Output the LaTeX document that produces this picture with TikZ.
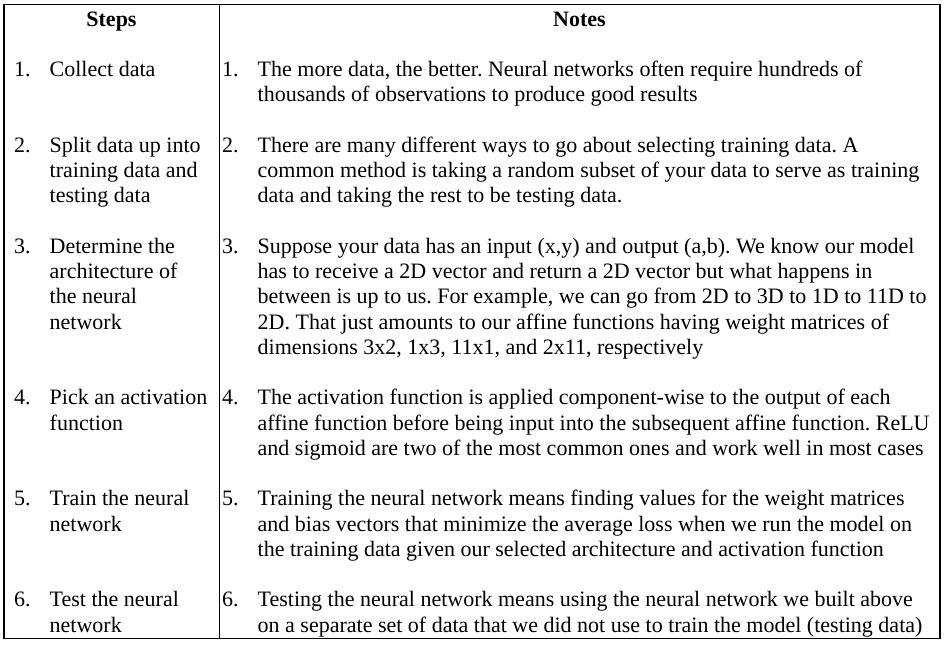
\documentclass[tikz,border=0pt]{standalone}
\usepackage{fontspec}
\setmainfont{Liberation Serif}
\begin{document}
\frenchspacing
\begin{tikzpicture}[x=1pt,y=-1pt,
  cell/.style={anchor=base west,inner sep=0pt,align=left,font=\fontsize{22}{25.25}\selectfont},
  head/.style={anchor=base,inner sep=0pt,font=\fontsize{22}{25.25}\selectfont\bfseries},
  rule/.style={line width=1.2pt,black}]
\useasboundingbox (0,0) rectangle (946,646);
% frame
\coordinate (tl) at (4,4.5);
\coordinate (br) at (940,638.5);
\coordinate (dtop) at (219.3,4.5);
\coordinate (dbot) at (219.3,638.5);
\draw[rule] (tl) rectangle (br);
\draw[rule] (dtop) -- (dbot);
% header
\node[head] (hs) at (111.5,26) {Steps};
\node[head] (hn) at (579.5,26) {Notes};
% (multi-line nodes are placed by the baseline of their last line)
% row 1
\node[cell] (sn1) at (14,76.5) {1.};
\node[cell] (st1) at (49.5,76.5) {Collect data};
\node[cell] (nn1) at (222,76.5) {1.};
\node[cell] (nt1) at (257.5,101.75) {The more data, the better. Neural networks often require hundreds of\\thousands of observations to produce good results};
% row 2
\node[cell] (sn2) at (14,152.25) {2.};
\node[cell] (st2) at (49.5,202.75) {Split data up into\\training data and\\testing data};
\node[cell] (nn2) at (222,152.25) {2.};
\node[cell] (nt2) at (257.5,202.75) {There are many different ways to go about selecting training data. A\\common method is taking a random subset of your data to serve as training\\data and taking the rest to be testing data.};
% row 3
\node[cell] (sn3) at (14,253.25) {3.};
\node[cell] (st3) at (49.5,329) {Determine the\\architecture of\\the neural\\network};
\node[cell] (nn3) at (222,253.25) {3.};
\node[cell] (nt3) at (257.5,354.25) {Suppose your data has an input (x,y) and output (a,b). We know our model\\has to receive a 2D vector and return a 2D vector but what happens in\\between is up to us. For example, we can go from 2D to 3D to 1D to 11D to\\2D. That just amounts to our affine functions having weight matrices of\\dimensions 3x2, 1x3, 11x1, and 2x11, respectively};
% row 4
\node[cell] (sn4) at (14,404.75) {4.};
\node[cell] (st4) at (49.5,430) {Pick an activation\\function};
\node[cell] (nn4) at (222,404.75) {4.};
\node[cell] (nt4) at (257.5,455.25) {The activation function is applied component-wise to the output of each\\affine function before being input into the subsequent affine function. ReLU\\and sigmoid are two of the most common ones and work well in most cases};
% row 5
\node[cell] (sn5) at (14,505.75) {5.};
\node[cell] (st5) at (49.5,531) {Train the neural\\network};
\node[cell] (nn5) at (222,505.75) {5.};
\node[cell] (nt5) at (257.5,556.25) {Training the neural network means finding values for the weight matrices\\and bias vectors that minimize the average loss when we run the model on\\the training data given our selected architecture and activation function};
% row 6
\node[cell] (sn6) at (14,606.75) {6.};
\node[cell] (st6) at (49.5,632) {Test the neural\\network};
\node[cell] (nn6) at (222,606.75) {6.};
\node[cell] (nt6) at (257.5,632) {Testing the neural network means using the neural network we built above\\on a separate set of data that we did not use to train the model (testing data)};
\end{tikzpicture}
\end{document}
